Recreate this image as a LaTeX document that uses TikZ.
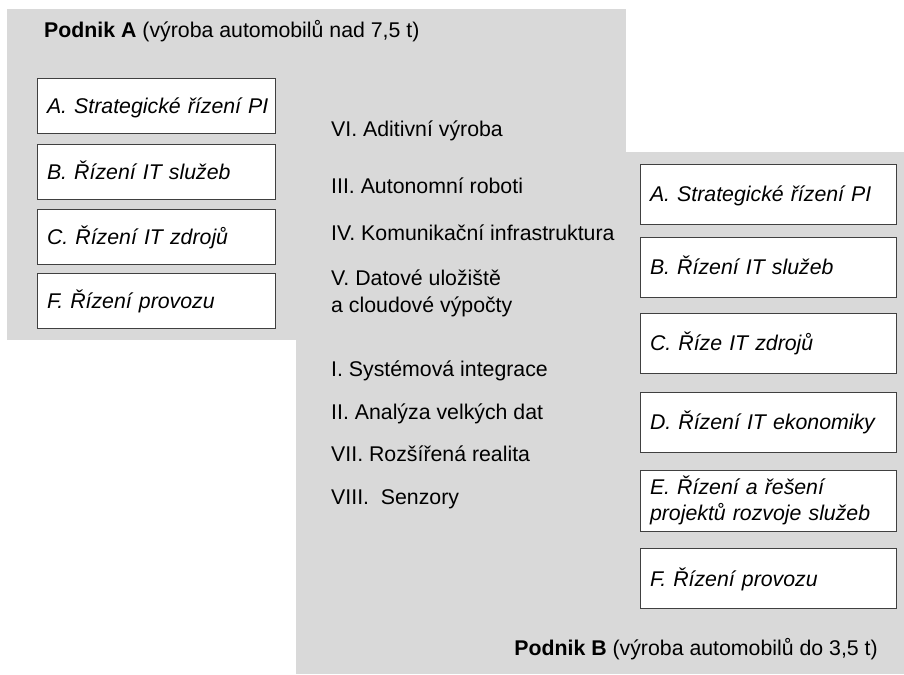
\documentclass[tikz,border=0pt]{standalone}
\usepackage{fontspec}
\setmainfont{Liberation Sans}
\definecolor{panelgray}{HTML}{D9D9D9}
\definecolor{boxline}{HTML}{404040}
\tikzset{
  panel/.style={fill=panelgray, draw=none},
  basebox/.style={draw=boxline, fill=white, line width=0.9pt, inner xsep=10pt, inner ysep=0pt,
    align=left, font=\fontsize{21.3}{25.5}\selectfont\itshape},
  onebox/.style={basebox, text height=19.5pt, text depth=4pt},
  lbox/.style={onebox, minimum width=238pt, text width=218pt, minimum height=55pt},
  rbox/.style={onebox, minimum width=256pt, text width=236pt, minimum height=60pt},
  item/.style={anchor=base west, inner sep=0pt, font=\fontsize{21.3}{27.5}\selectfont},
  header/.style={inner sep=0pt, font=\fontsize{21.3}{25}\selectfont}
}
\begin{document}
\begin{tikzpicture}[x=1pt,y=-1pt]
\useasboundingbox (0,0) rectangle (904,674);
% panels
\fill[panel] (7,9) rectangle (626,340);
\fill[panel] (296,152) rectangle (904,674);
% headers
\node[header, anchor=base west] (hA) at (44,38) {\textbf{Podnik A} (výroba automobilů nad 7,5 t)};
\node[header, anchor=base east] (hB) at (878,655) {\textbf{Podnik B} (výroba automobilů do 3,5 t)};
% left boxes (Podnik A)
\node[lbox] (la) at (156,105.5) {\mbox{A. Strategické řízení PI}};
\node[lbox] (lb) at (156,171.5) {B. Řízení IT služeb};
\node[lbox] (lc) at (156,236.5) {C. Řízení IT zdrojů};
\node[lbox] (lf) at (156,301) {F. Řízení provozu};
% right boxes (Podnik B)
\node[rbox] (ra) at (768,194) {A. Strategické řízení PI};
\node[rbox] (rb) at (768,267) {B. Řízení IT služeb};
\node[rbox] (rc) at (768,343) {C. Říze IT zdrojů};
\node[rbox] (rd) at (768,422) {D. Řízení IT ekonomiky};
\node[basebox, minimum width=256pt, text width=236pt, minimum height=61pt] (re) at (768,500.5) {E. Řízení a řešení\\projektů rozvoje služeb};
\node[rbox] (rf) at (768,578.5) {F. Řízení provozu};
% technologies
\node[item] (t6) at (331,136) {VI. Aditivní výroba};
\node[item] (t3) at (331,193) {III. Autonomní roboti};
\node[item] (t4) at (331,240) {IV. Komunikační infrastruktura};
\node[item] (t5) at (331,285) {\begin{tabular}[t]{@{}l@{}}V. Datové uložiště\\a cloudové výpočty\end{tabular}};
\node[item] (t1) at (331,376) {I. Systémová integrace};
\node[item] (t2) at (331,419) {II. Analýza velkých dat};
\node[item] (t7) at (331,461) {VII. Rozšířená realita};
\node[item] (t8) at (331,504) {VIII.\ \ Senzory};
\end{tikzpicture}
\end{document}
